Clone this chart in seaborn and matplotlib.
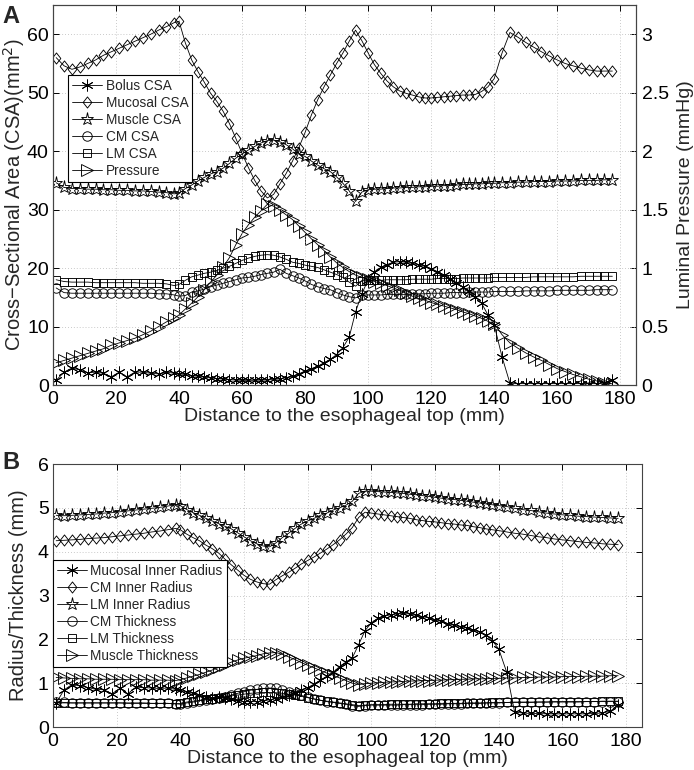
import matplotlib
matplotlib.use("Agg")
import matplotlib.pyplot as plt
from matplotlib.path import Path
import seaborn as sns
import numpy as np

# ---------------- data ----------------
X = [1, 3.5, 6, 8.5, 11, 13.5, 16, 18.5, 21, 23.5, 26, 28.5, 31, 33.5, 36, 38.5,
     40, 42, 44, 46, 48, 50, 52, 54, 56, 58, 60, 62, 64, 66, 68, 70, 72, 74, 76, 78,
     80, 82, 84, 86, 88, 90, 92, 94, 96, 98, 100, 102, 104, 106, 108, 110, 112, 114,
     116, 118, 120, 122, 124, 126, 128, 130, 132, 134, 136, 138, 140,
     142.5, 145, 147.5, 150, 152.5, 155, 157.5, 160, 162.5, 165, 167.5, 170, 172.5, 175, 177.5]

bolus_csa = [0.8, 2.2, 2.9, 2.6, 2.1, 2.2, 2.0, 1.4, 2.2, 1.4, 2.2, 2.2, 2.0, 1.9, 2.2, 2.0,
             1.9, 1.8, 1.6, 1.5, 1.35, 1.2, 1.1, 1.0, 0.9, 0.85, 0.8, 0.8, 0.8, 0.85, 0.85, 0.95, 1.05, 1.25, 1.5, 1.9,
             2.4, 2.8, 3.2, 3.8, 4.4, 5.2, 6.4, 8.2, 12.5, 15.6, 18.0, 19.4, 20.1, 20.6, 21.0, 21.1, 21.0, 20.8,
             20.6, 20.3, 19.9, 19.4, 18.8, 18.2, 17.5, 16.8, 16.0, 15.1, 14.0, 12.0, 10.3,
             4.8, 0.3, 0.25, 0.25, 0.25, 0.25, 0.25, 0.25, 0.25, 0.25, 0.25, 0.25, 0.25, 0.3, 0.8]
mucosal_csa = [56, 54.6, 54, 54.4, 55, 55.6, 56.4, 57, 57.6, 58.2, 58.8, 59.4, 60, 60.7, 61.3, 62,
               62.2, 58.5, 55.6, 53.6, 51.8, 49.9, 48.5, 46.8, 44.7, 42.2, 39.6, 37.2, 35, 33.2, 32, 32.6, 34.4, 36.2, 38.3, 40.6,
               43.2, 46.2, 48.8, 51, 53, 55, 56.8, 58.8, 60.7, 58.9, 56.8, 54.8, 53.3, 52, 51, 50.3, 49.9, 49.6,
               49.3, 49.1, 49.1, 49.2, 49.3, 49.4, 49.5, 49.6, 49.6, 49.7, 50.2, 51, 52.4,
               56.8, 60.3, 59.5, 58.6, 57.8, 57, 56.3, 55.6, 55, 54.6, 54.2, 53.9, 53.7, 53.7, 53.7]
muscle_csa = [34.6, 33.8, 33.6, 33.6, 33.5, 33.5, 33.4, 33.4, 33.3, 33.3, 33.2, 33.2, 33.1, 33, 32.9, 32.7,
              32.8, 33.6, 34.2, 34.9, 35.5, 36.1, 36.5, 37.1, 37.9, 38.8, 39.5, 40.2, 40.8, 41.4, 41.8, 41.9, 41.6, 41.1, 40.4, 39.5,
              39.1, 38.3, 37.6, 37, 36.5, 35.6, 34.5, 33.2, 31.4, 33, 33.4, 33.5, 33.5, 33.6, 33.7, 33.7, 33.8, 33.8,
              33.9, 33.9, 34, 34, 34.1, 34.1, 34.2, 34.3, 34.3, 34.4, 34.4, 34.5, 34.5,
              34.6, 34.6, 34.7, 34.7, 34.8, 34.8, 34.8, 34.9, 34.9, 34.9, 35, 35, 35, 35.1, 35.1]
cm_csa = [16.6, 15.8, 15.7, 15.7, 15.7, 15.7, 15.7, 15.7, 15.7, 15.7, 15.7, 15.7, 15.7, 15.6, 15.6, 15.4,
          15.2, 15.3, 15.9, 16.1, 16.4, 16.8, 17.1, 17.4, 17.7, 18.0, 18.3, 18.4, 18.6, 18.9, 19.1, 19.3, 19.8, 19.1, 18.7, 18.3,
          17.8, 17.2, 16.8, 16.5, 16.3, 15.8, 15.4, 15.1, 14.9, 15.4, 15.4, 15.4, 15.4, 15.5, 15.5, 15.5, 15.5, 15.6,
          15.6, 15.6, 15.7, 15.7, 15.7, 15.8, 15.8, 15.8, 15.9, 15.9, 15.9, 15.9, 16.0,
          16.0, 16.0, 16.0, 16.1, 16.1, 16.1, 16.1, 16.2, 16.2, 16.2, 16.2, 16.2, 16.3, 16.3, 16.3]
lm_csa = [18.0, 17.7, 17.6, 17.6, 17.6, 17.5, 17.5, 17.5, 17.5, 17.5, 17.5, 17.4, 17.4, 17.4, 17.3, 17.0,
          17.2, 17.9, 18.5, 18.8, 19.1, 19.3, 19.6, 20.0, 20.3, 20.8, 21.3, 21.7, 22.0, 22.2, 22.3, 22.2, 21.9, 21.5, 21.0, 20.8,
          20.5, 20.3, 20.1, 19.7, 19.3, 18.9, 18.4, 17.6, 16.9, 17.8, 17.9, 17.9, 17.9, 18.0, 18.0, 18.0, 18.0, 18.1,
          18.1, 18.1, 18.1, 18.2, 18.2, 18.2, 18.2, 18.3, 18.3, 18.3, 18.3, 18.3, 18.4,
          18.4, 18.4, 18.4, 18.4, 18.5, 18.5, 18.5, 18.5, 18.5, 18.5, 18.6, 18.6, 18.6, 18.6, 18.6]
pressure = [0.19, 0.21, 0.23, 0.25, 0.27, 0.29, 0.31, 0.34, 0.36, 0.38, 0.40, 0.43, 0.46, 0.50, 0.54, 0.57,
            0.60, 0.65, 0.70, 0.755, 0.815, 0.88, 0.94, 1.01, 1.09, 1.20, 1.295, 1.37, 1.435, 1.49, 1.545, 1.53, 1.495, 1.455, 1.415, 1.36,
            1.305, 1.25, 1.20, 1.15, 1.095, 1.045, 1.005, 0.97, 0.94, 0.92, 0.905, 0.885, 0.87, 0.85, 0.83, 0.81, 0.785, 0.76,
            0.74, 0.725, 0.705, 0.69, 0.675, 0.66, 0.645, 0.625, 0.61, 0.59, 0.57, 0.545, 0.525,
            0.43, 0.36, 0.315, 0.275, 0.24, 0.21, 0.175, 0.14, 0.115, 0.09, 0.07, 0.05, 0.035, 0.02, 0.01]

mucosal_r = [0.55, 0.85, 0.97, 0.94, 0.9, 0.86, 0.85, 0.76, 0.88, 0.76, 0.91, 0.9, 0.89, 0.88, 0.89, 0.86,
             0.84, 0.8, 0.77, 0.74, 0.69, 0.66, 0.68, 0.67, 0.63, 0.6, 0.58, 0.58, 0.58, 0.6, 0.62, 0.65, 0.68, 0.72, 0.78, 0.85,
             0.9, 0.98, 1.07, 1.16, 1.25, 1.38, 1.48, 1.58, 1.88, 2.2, 2.38, 2.48, 2.53, 2.56, 2.58, 2.59, 2.58, 2.55,
             2.52, 2.49, 2.45, 2.41, 2.36, 2.32, 2.29, 2.26, 2.22, 2.17, 2.1, 1.97, 1.78,
             1.25, 0.34, 0.32, 0.31, 0.31, 0.3, 0.3, 0.3, 0.3, 0.3, 0.3, 0.31, 0.32, 0.36, 0.5]
cm_r = [4.25, 4.26, 4.27, 4.28, 4.3, 4.31, 4.32, 4.34, 4.36, 4.38, 4.4, 4.42, 4.45, 4.47, 4.5, 4.53,
        4.5, 4.4, 4.32, 4.25, 4.15, 4.07, 3.97, 3.83, 3.7, 3.58, 3.46, 3.37, 3.31, 3.27, 3.26, 3.36, 3.45, 3.53, 3.62, 3.72,
        3.8, 3.88, 3.97, 4.06, 4.16, 4.27, 4.4, 4.55, 4.78, 4.9, 4.88, 4.86, 4.84, 4.82, 4.8, 4.78, 4.76, 4.73,
        4.71, 4.69, 4.68, 4.66, 4.64, 4.63, 4.61, 4.6, 4.57, 4.55, 4.52, 4.5, 4.48,
        4.45, 4.42, 4.4, 4.37, 4.34, 4.32, 4.29, 4.27, 4.25, 4.23, 4.21, 4.2, 4.18, 4.17, 4.16]
lm_r = [4.83, 4.82, 4.83, 4.84, 4.85, 4.86, 4.88, 4.89, 4.91, 4.93, 4.95, 4.97, 4.99, 5.01, 5.04, 5.07,
        5.05, 4.96, 4.89, 4.83, 4.76, 4.7, 4.64, 4.58, 4.52, 4.43, 4.34, 4.25, 4.18, 4.13, 4.11, 4.2, 4.32, 4.42, 4.53, 4.63,
        4.7, 4.76, 4.83, 4.88, 4.95, 5.0, 5.06, 5.15, 5.33, 5.38, 5.38, 5.37, 5.36, 5.35, 5.34, 5.33, 5.31, 5.3,
        5.28, 5.26, 5.24, 5.22, 5.2, 5.19, 5.17, 5.15, 5.13, 5.11, 5.09, 5.07, 5.05,
        5.03, 4.99, 4.96, 4.94, 4.91, 4.88, 4.86, 4.84, 4.83, 4.81, 4.8, 4.79, 4.78, 4.77, 4.76]
cm_t = [0.58, 0.56, 0.55, 0.55, 0.55, 0.55, 0.55, 0.55, 0.55, 0.55, 0.55, 0.55, 0.54, 0.54, 0.54, 0.53,
        0.52, 0.55, 0.57, 0.6, 0.62, 0.64, 0.66, 0.69, 0.73, 0.77, 0.81, 0.84, 0.86, 0.88, 0.89, 0.88, 0.84, 0.8, 0.76, 0.72,
        0.68, 0.64, 0.61, 0.58, 0.56, 0.54, 0.52, 0.49, 0.47, 0.49, 0.5, 0.5, 0.5, 0.5, 0.5, 0.51, 0.51, 0.51,
        0.51, 0.52, 0.52, 0.52, 0.53, 0.53, 0.53, 0.54, 0.54, 0.54, 0.55, 0.55, 0.55,
        0.56, 0.56, 0.56, 0.56, 0.57, 0.57, 0.57, 0.57, 0.57, 0.57, 0.58, 0.58, 0.58, 0.58, 0.58]
lm_t = [0.55, 0.55, 0.55, 0.55, 0.55, 0.55, 0.55, 0.55, 0.55, 0.54, 0.54, 0.54, 0.54, 0.54, 0.54, 0.53,
        0.54, 0.57, 0.59, 0.61, 0.63, 0.65, 0.67, 0.69, 0.71, 0.73, 0.75, 0.77, 0.78, 0.79, 0.79, 0.78, 0.77, 0.75, 0.73, 0.7,
        0.67, 0.64, 0.61, 0.59, 0.57, 0.55, 0.53, 0.51, 0.49, 0.5, 0.51, 0.51, 0.51, 0.52, 0.52, 0.52, 0.52, 0.53,
        0.53, 0.53, 0.53, 0.54, 0.54, 0.54, 0.54, 0.55, 0.55, 0.55, 0.55, 0.56, 0.56,
        0.56, 0.57, 0.57, 0.57, 0.57, 0.57, 0.58, 0.58, 0.58, 0.58, 0.58, 0.58, 0.59, 0.59, 0.59]
muscle_t = [1.13, 1.12, 1.11, 1.1, 1.1, 1.09, 1.09, 1.09, 1.08, 1.08, 1.08, 1.08, 1.07, 1.07, 1.07, 1.06,
            1.08, 1.12, 1.16, 1.2, 1.25, 1.3, 1.36, 1.42, 1.48, 1.53, 1.57, 1.6, 1.63, 1.67, 1.69, 1.7, 1.66, 1.6, 1.54, 1.47,
            1.41, 1.35, 1.29, 1.23, 1.18, 1.12, 1.06, 1.0, 0.97, 0.99, 1.0, 1.01, 1.02, 1.03, 1.03, 1.04, 1.05, 1.05,
            1.06, 1.06, 1.07, 1.07, 1.08, 1.08, 1.09, 1.09, 1.1, 1.1, 1.1, 1.11, 1.11,
            1.12, 1.12, 1.13, 1.13, 1.14, 1.14, 1.14, 1.15, 1.15, 1.15, 1.16, 1.16, 1.16, 1.17, 1.17]

top_labels = ["Bolus CSA", "Mucosal CSA", "Muscle CSA", "CM CSA", "LM CSA", "Pressure"]
bot_labels = ["Mucosal Inner Radius", "CM Inner Radius", "LM Inner Radius",
              "CM Thickness", "LM Thickness", "Muscle Thickness"]
x_ticks = [0, 20, 40, 60, 80, 100, 120, 140, 160, 180]
top_yticks = [0, 10, 20, 30, 40, 50, 60]
right_yticks = [0, 0.5, 1, 1.5, 2, 2.5, 3]
right_yticklabels = ["0", "0.5", "1", "1.5", "2", "2.5", "3"]
bot_yticks = [0, 1, 2, 3, 4, 5, 6]

# ---------------- style ----------------
sns.set_style("white")
plt.rcParams["font.family"] = ["Liberation Sans", "DejaVu Sans"]
plt.rcParams["axes.unicode_minus"] = True

ASTER = (6, 2, 0)
DIAMOND = Path([(0, 1), (0.78, 0), (0, -1), (-0.78, 0), (0, 1)],
               [Path.MOVETO, Path.LINETO, Path.LINETO, Path.LINETO, Path.CLOSEPOLY])
styles = {
    "aster": dict(marker=ASTER, markersize=8.5),
    "diam": dict(marker=DIAMOND, markersize=8, markerfacecolor="none"),
    "star": dict(marker="*", markersize=9.5, markerfacecolor="none"),
    "circ": dict(marker="o", markersize=6.8, markerfacecolor="none"),
    "sq": dict(marker="s", markersize=6.2, markerfacecolor="none"),
    "tri": dict(marker=">", markersize=8, markerfacecolor="none"),
}
base = dict(color="black", linewidth=0.6, markeredgecolor="black", markeredgewidth=0.65,
            errorbar=None, legend=False)

fig = plt.figure(figsize=(6.94, 7.7), dpi=100)
ax = fig.add_axes([0.0764, 0.5, 0.840, 0.4935])
axb = fig.add_axes([0.0764, 0.0558, 0.8487, 0.3416])

TICKFS = 14
LEGFS = 9.8
spine_c = "#444444"


def style_axes(a, right=True):
    a.set_xlim(0, 185)
    a.set_xticks(x_ticks)
    a.grid(True, linestyle=(0, (1, 2.5)), color="#b8b8b8", linewidth=0.6)
    a.tick_params(direction="in", length=4, width=0.7, top=True, right=right,
                  labelsize=TICKFS, colors="black")
    a.tick_params(axis="x", pad=4)
    a.tick_params(axis="y", pad=3)
    for s in a.spines.values():
        s.set_color(spine_c)
        s.set_linewidth(0.8)


# ---------- panel A ----------
ax2 = ax.twinx()
top_series = [(bolus_csa, "aster"), (mucosal_csa, "diam"), (muscle_csa, "star"),
              (cm_csa, "circ"), (lm_csa, "sq")]
for (vals, st), lab in zip(top_series, top_labels[:5]):
    sns.lineplot(x=X, y=vals, ax=ax, label=lab, **base, **styles[st])
sns.lineplot(x=X, y=pressure, ax=ax2, label=top_labels[5], **base, **styles["tri"])

style_axes(ax, right=False)
ax.set_ylim(0, 65)
ax.set_yticks(top_yticks)
ax2.set_ylim(0, 3.25)
ax2.set_yticks(right_yticks)
ax2.set_yticklabels(right_yticklabels)
ax2.tick_params(direction="in", length=4, width=0.7, labelsize=TICKFS, colors="black", pad=4)
for s in ax2.spines.values():
    s.set_color(spine_c)
    s.set_linewidth(0.8)
ax.set_xlabel("Distance to the esophageal top (mm)", fontsize=14, labelpad=0)
ax.set_ylabel("Cross\u2212Sectional Area (CSA)(mm$^2$)", fontsize=14.5)
ax.yaxis.set_label_coords(-0.044, 0.5)
ax2.set_ylabel("Luminal Pressure (mmHg)", fontsize=14, labelpad=6)

h1, l1 = ax.get_legend_handles_labels()
h2, l2 = ax2.get_legend_handles_labels()
leg = ax.legend(h1 + h2, l1 + l2, loc="upper left", bbox_to_anchor=(0.026, 0.816),
                fontsize=LEGFS, frameon=True, fancybox=False, edgecolor="black",
                handlelength=2.2, handletextpad=0.25, labelspacing=0.22, borderpad=0.3,
                borderaxespad=0, framealpha=1)
leg.get_frame().set_linewidth(0.8)
leg.set_zorder(10)
ax.set_zorder(ax2.get_zorder() + 1)
ax.patch.set_visible(False)

# ---------- panel B ----------
bot_series = [(mucosal_r, "aster"), (cm_r, "diam"), (lm_r, "star"),
              (cm_t, "circ"), (lm_t, "sq"), (muscle_t, "tri")]
for (vals, st), lab in zip(bot_series, bot_labels):
    sns.lineplot(x=X, y=vals, ax=axb, label=lab, **base, **styles[st])
style_axes(axb, right=True)
axb.set_ylim(0, 6)
axb.set_yticks(bot_yticks)
axb.set_xlabel("Distance to the esophageal top (mm)", fontsize=14, labelpad=0)
axb.set_ylabel("Radius/Thickness (mm)", fontsize=14.5)
axb.yaxis.set_label_coords(-0.042, 0.5)
hb, lb = axb.get_legend_handles_labels()
legb = axb.legend(hb, lb, loc="upper left", bbox_to_anchor=(0.0, 0.635),
                  fontsize=LEGFS, frameon=True, fancybox=False, edgecolor="black",
                  handlelength=2.2, handletextpad=0.25, labelspacing=0.22, borderpad=0.3,
                  borderaxespad=0, framealpha=1)
legb.get_frame().set_linewidth(0.8)

fig.text(0.004, 0.978, "A", fontsize=17, fontweight="bold", va="center", ha="left")
fig.text(0.004, 0.399, "B", fontsize=17, fontweight="bold", va="center", ha="left")

fig.savefig("out.png", dpi=100)
